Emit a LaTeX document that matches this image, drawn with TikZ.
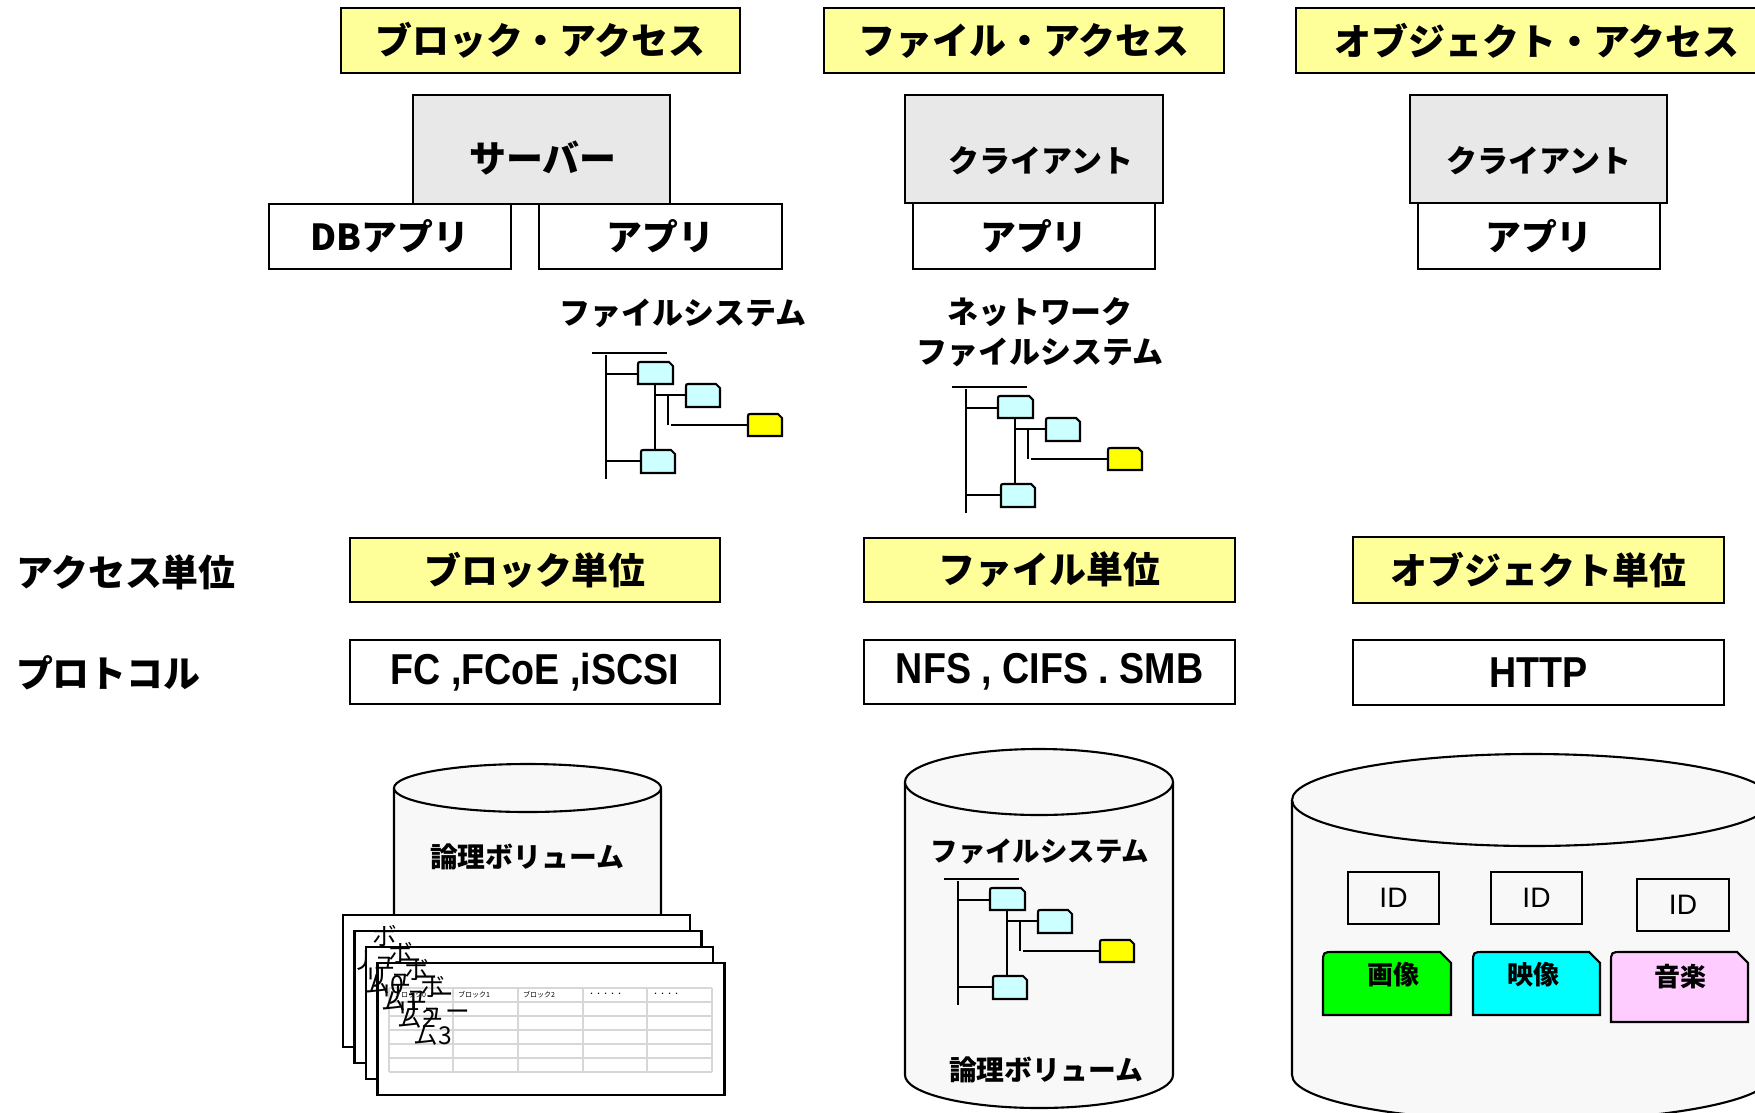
\documentclass[tikz,border=0pt]{standalone}
\usepackage{fontspec}
\setmainfont{Noto Sans CJK JP}
\newfontfamily\protofont[FakeStretch=0.87]{Liberation Sans}
\newfontfamily\idfont{Liberation Sans}

\definecolor{paleyellow}{RGB}{255,255,153}
\definecolor{hostgray}{RGB}{232,232,232}
\definecolor{drumgray}{RGB}{248,248,248}
\definecolor{foldercyan}{RGB}{204,255,255}
\definecolor{fileyellow}{RGB}{255,255,0}
\definecolor{objgreen}{RGB}{0,255,0}
\definecolor{objcyan}{RGB}{0,255,255}
\definecolor{objpink}{RGB}{255,204,255}
\definecolor{gridgray}{RGB}{215,215,215}

\tikzset{
  headbox/.style={draw, fill=paleyellow, font=\bfseries\fontsize{10.5pt}{12pt}\selectfont},
  hostbox/.style={draw, fill=hostgray},
  appbox/.style={draw, fill=white, font=\bfseries\fontsize{10.2pt}{12pt}\selectfont},
  protobox/.style={draw, fill=white, font=\protofont\bfseries\fontsize{12.3pt}{14pt}\selectfont},
  bigtext/.style={inner sep=0pt, font=\bfseries\fontsize{10.5pt}{12pt}\selectfont},
  midtext/.style={inner sep=0pt, align=center, font=\bfseries\fontsize{8.8pt}{11.4pt}\selectfont},
  voltext/.style={inner sep=0pt, font=\bfseries\fontsize{7.9pt}{9pt}\selectfont},
  objtext/.style={inner sep=0pt, font=\bfseries\fontsize{7.4pt}{9pt}\selectfont},
  idbox/.style={draw, line width=0.5pt, font=\idfont\fontsize{8pt}{9pt}\selectfont},
  stacklabel/.style={inner sep=0pt, align=center, font=\fontsize{7pt}{6.9pt}\selectfont},
  cellhead/.style={inner sep=0pt, anchor=west, font=\fontsize{2pt}{2pt}\selectfont},
  tablegrid/.style={draw=gridgray, line width=0.3pt}
}

% tab shaped icon: x, y (top left), width, height, corner, colour
\newcommand{\filetab}[6]{%
  \draw[fill=#6] (#1,{#2+#4}) -- (#1,{#2+#5}) .. controls (#1,#2) .. ({#1+#5},#2)
    -- ({#1+#3-#5},#2) -- ({#1+#3},{#2+#5}) -- ({#1+#3},{#2+#4}) -- cycle;}

% directory tree, placed by the top of its trunk
\newcommand{\dirtree}[2]{%
  \begin{scope}[shift={(#1,#2)}]
    \draw (-14,0) -- (61,0);
    \draw (0,2) -- (0,126);
    \draw (0,21) -- (32,21);
    \draw (49,31) -- (49,97);
    \draw (49,42) -- (80,42);
    \draw (62,42) -- (62,72);
    \draw (65,72) -- (142,72);
    \draw (0,108) -- (35,108);
    \filetab{32}{9}{35}{22}{4}{foldercyan}
    \filetab{80}{31}{34}{23}{4}{foldercyan}
    \filetab{142}{61}{34}{22}{4}{fileyellow}
    \filetab{35}{97}{34}{23}{4}{foldercyan}
  \end{scope}}

% cylinder: centre x, top centre y, x radius, y radius, bottom centre y
\newcommand{\drum}[5]{%
  \fill[drumgray] ({#1-#3},#2) -- ({#1-#3},#5)
    arc[start angle=180, end angle=0, x radius=#3, y radius=#4] -- ({#1+#3},#2) -- cycle;
  \draw ({#1-#3},#2) -- ({#1-#3},#5)
    arc[start angle=180, end angle=0, x radius=#3, y radius=#4] -- ({#1+#3},#2);
  \draw[fill=drumgray] (#1,#2) ellipse[x radius=#3, y radius=#4];}

\begin{document}
\begin{tikzpicture}[x=0.01cm, y=-0.01cm, line width=0.6pt]
  \useasboundingbox (0,0) rectangle (1755,1112);
  \clip (0,0) rectangle (1755,1112);

  \node[headbox, minimum width=3.99cm, minimum height=0.65cm] (blockhead) at (540.5,40.5) {ブロック・アクセス};
  \node[headbox, minimum width=4.00cm, minimum height=0.65cm] (filehead) at (1024,40.5) {ファイル・アクセス};
  \node[headbox, minimum width=4.82cm, minimum height=0.65cm] (objhead) at (1537,40.5) {オブジェクト・アクセス};

  \node[hostbox, minimum width=2.57cm, minimum height=1.09cm] (server) at (541.5,149.5) {};
  \node[bigtext] (servertext) at (543,158) {サーバー};
  \node[hostbox, minimum width=2.58cm, minimum height=1.08cm] (client1) at (1034,149) {};
  \node[midtext] (clienttext1) at (1041,161) {クライアント};
  \node[hostbox, minimum width=2.57cm, minimum height=1.08cm] (client2) at (1538.5,149) {};
  \node[midtext] (clienttext2) at (1539,161) {クライアント};

  \node[appbox, minimum width=2.42cm, minimum height=0.65cm] (dbapp) at (390,236.5) {DBアプリ};
  \node[appbox, minimum width=2.43cm, minimum height=0.65cm] (app1) at (660.5,236.5) {アプリ};
  \node[appbox, minimum width=2.42cm, minimum height=0.66cm] (app2) at (1034,236) {アプリ};
  \node[appbox, minimum width=2.42cm, minimum height=0.66cm] (app3) at (1539,236) {アプリ};

  \node[midtext] (fslabel) at (683,313) {ファイルシステム};
  \dirtree{606}{353}
  \node[midtext] (nfslabel) at (1040,332) {ネットワーク\\ファイルシステム};
  \dirtree{966}{387}

  \node[bigtext, anchor=west] (unitlabel) at (15,572) {アクセス単位};
  \node[bigtext, anchor=west] (protolabel) at (15,673) {プロトコル};

  \node[headbox, minimum width=3.70cm, minimum height=0.64cm] (blockunit) at (535,570) {ブロック単位};
  \node[headbox, minimum width=3.71cm, minimum height=0.64cm] (fileunit) at (1049.5,570) {ファイル単位};
  \node[headbox, minimum width=3.71cm, minimum height=0.66cm] (objunit) at (1538.5,570) {オブジェクト単位};
  \node[protobox, minimum width=3.70cm, minimum height=0.64cm] (blockproto) at (535,672) {FC ,FCoE ,iSCSI};
  \node[protobox, minimum width=3.71cm, minimum height=0.64cm] (fileproto) at (1049.5,672) {NFS , CIFS . SMB};
  \node[protobox, minimum width=3.71cm, minimum height=0.65cm] (objproto) at (1538.5,672.5) {HTTP};

  % block storage
  \drum{527.5}{788}{133.5}{24}{930}
  \node[voltext] (blockvol) at (527,857) {論理ボリューム};
  \foreach \i in {0,...,3}
    \draw[fill=white] ({343+11.5*\i},{915+16*\i}) rectangle +(347,132);
  \foreach \x in {389,453,518,583,647,712}
    \draw[tablegrid] (\x,988) -- (\x,1072);
  \foreach \y in {988,1002,1016,1030,1044,1058,1072}
    \draw[tablegrid] (389,\y) -- (712,\y);
  \node[cellhead] (cell0) at (393,995) {ブロック0};
  \node[cellhead] (cell1) at (457,995) {ブロック1};
  \node[cellhead] (cell2) at (522,995) {ブロック2};
  \node[cellhead] (cell3) at (587,995) {・・・・・};
  \node[cellhead] (cell4) at (651,995) {・・・・};
  \foreach \i in {0,...,3}
    \node[stacklabel] (vol\i) at ({385+16*\i},{960+17*\i}) {ボ\\リュー\\ム\i};

  % file storage
  \drum{1039}{782}{134}{33}{1075}
  \node[midtext, font=\bfseries\fontsize{7.8pt}{9pt}\selectfont] (innerfs) at (1040,852) {ファイルシステム};
  \dirtree{958}{879}
  \node[voltext] (filevol) at (1046,1070) {論理ボリューム};

  % object storage
  \drum{1532}{800}{240}{46}{1075}
  \node[idbox, minimum width=0.91cm, minimum height=0.52cm] (id1) at (1393.5,898) {ID};
  \node[idbox, minimum width=0.91cm, minimum height=0.52cm] (id2) at (1536.5,898) {ID};
  \node[idbox, minimum width=0.92cm, minimum height=0.52cm] (id3) at (1683,905) {ID};
  \filetab{1323}{952}{128}{63}{11}{objgreen}
  \filetab{1473}{952}{127}{63}{11}{objcyan}
  \filetab{1611}{952}{137}{70}{11}{objpink}
  \node[objtext] (image) at (1393,975) {画像};
  \node[objtext] (video) at (1533,975) {映像};
  \node[objtext] (music) at (1680,977) {音楽};
\end{tikzpicture}
\end{document}
